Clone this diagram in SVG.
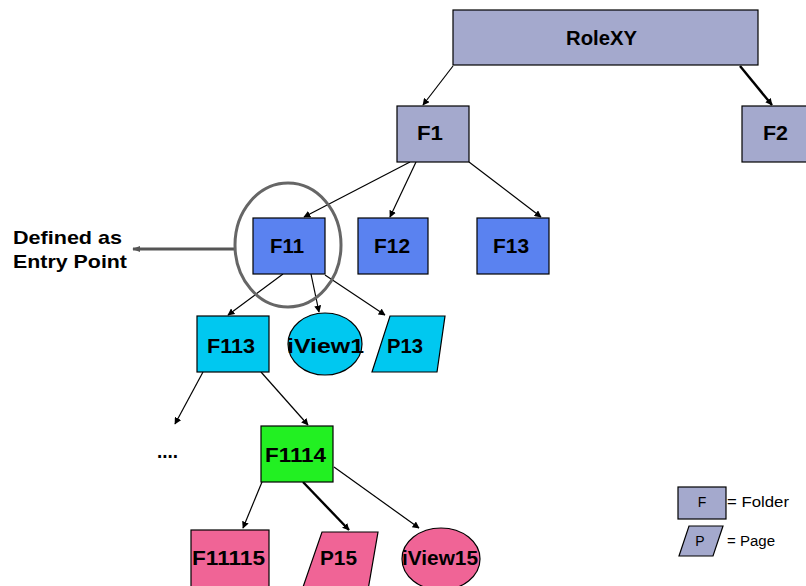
<svg xmlns="http://www.w3.org/2000/svg" width="806" height="586" viewBox="0 0 806 586">
<defs>
<marker id="ah" viewBox="0 0 10 10" refX="9" refY="5" markerWidth="7" markerHeight="7" markerUnits="userSpaceOnUse" orient="auto"><path d="M0,0 L10,5 L0,10 z" fill="#000"/></marker>
<marker id="ahg" viewBox="0 0 10 10" refX="9" refY="5" markerWidth="8" markerHeight="8" markerUnits="userSpaceOnUse" orient="auto"><path d="M0,1 L10,5 L0,9 z" fill="#555"/></marker>
</defs>
<style>
.n{stroke:#000;stroke-width:1.2}
.gray{fill:#a4a9cd}
.blue{fill:#5a82f0}
.cyan{fill:#00c8f0}
.green{fill:#22f022}
.pink{fill:#f06496}
.t{font-family:"Liberation Sans",Arial,sans-serif;font-weight:bold;font-size:20px;fill:#000}
.c{stroke:#000;stroke-width:1.2;fill:none;marker-end:url(#ah)}
.ct{stroke-width:2.4}
.lg{font-family:"Liberation Sans",Arial,sans-serif;font-size:14px;fill:#000}
</style>
<g id="connectors">
<line class="c" x1="453" y1="66" x2="423" y2="105"/>
<line class="c ct" x1="740" y1="66" x2="772" y2="105"/>
<line class="c" x1="410" y1="162" x2="304" y2="217"/>
<line class="c" x1="416" y1="162" x2="390" y2="217"/>
<line class="c" x1="469" y1="162" x2="541" y2="217"/>
<line class="c" x1="283" y1="274" x2="228" y2="315"/>
<line class="c" x1="311" y1="274" x2="319" y2="312"/>
<line class="c" x1="325" y1="275" x2="385" y2="315"/>
<line class="c" x1="203" y1="372" x2="175" y2="424"/>
<line class="c" x1="261" y1="372" x2="308" y2="425"/>
<line class="c" x1="262" y1="482" x2="243" y2="528"/>
<line class="c ct" x1="303" y1="482" x2="349" y2="530"/>
<line class="c" x1="334" y1="467" x2="419" y2="528"/>
<line stroke="#555" stroke-width="3" marker-end="url(#ahg)" x1="235" y1="249" x2="133" y2="249"/>
</g>
<g id="RoleXY"><rect class="n gray" x="453" y="10" width="305" height="55"/><text class="t" x="566" y="45" textLength="71" lengthAdjust="spacingAndGlyphs">RoleXY</text></g>
<g id="F1"><rect class="n gray" x="397" y="106" width="72" height="56"/><text class="t" x="417" y="140" textLength="26" lengthAdjust="spacingAndGlyphs">F1</text></g>
<g id="F2"><rect class="n gray" x="742" y="106" width="70" height="56"/><text class="t" x="763" y="140" textLength="25" lengthAdjust="spacingAndGlyphs">F2</text></g>
<g id="F11"><rect class="n blue" x="253" y="218" width="72" height="56"/><text class="t" x="270" y="253" textLength="34" lengthAdjust="spacingAndGlyphs">F11</text></g>
<g id="F12"><rect class="n blue" x="358" y="218" width="70" height="56"/><text class="t" x="374" y="253" textLength="36" lengthAdjust="spacingAndGlyphs">F12</text></g>
<g id="F13"><rect class="n blue" x="477" y="218" width="72" height="56"/><text class="t" x="493" y="253" textLength="36" lengthAdjust="spacingAndGlyphs">F13</text></g>
<g id="entrypoint">
<ellipse cx="288" cy="245" rx="53" ry="62" fill="none" stroke="#666" stroke-width="3"/>
<text font-family="'Liberation Sans',Arial,sans-serif" font-weight="bold" font-size="19" x="13" y="244" textLength="109" lengthAdjust="spacingAndGlyphs">Defined as</text>
<text font-family="'Liberation Sans',Arial,sans-serif" font-weight="bold" font-size="19" x="13" y="268" textLength="114" lengthAdjust="spacingAndGlyphs">Entry Point</text>
</g>
<g id="F113"><rect class="n cyan" x="197" y="316" width="72" height="56"/><text class="t" x="207" y="353" textLength="48" lengthAdjust="spacingAndGlyphs">F113</text></g>
<g id="iView1"><ellipse class="n cyan" cx="325" cy="344" rx="37" ry="31"/><text class="t" x="287" y="353" textLength="77" lengthAdjust="spacingAndGlyphs">iView1</text></g>
<g id="P13"><polygon class="n cyan" points="390,316 445,316 437,372 372,372"/><text class="t" x="387" y="353" textLength="36" lengthAdjust="spacingAndGlyphs">P13</text></g>
<g id="more"><text class="t" x="157" y="458" textLength="21" lengthAdjust="spacingAndGlyphs">....</text></g>
<g id="F1114"><rect class="n green" x="261" y="426" width="72" height="56"/><text class="t" x="265" y="462" textLength="61" lengthAdjust="spacingAndGlyphs">F1114</text></g>
<g id="F11115"><rect class="n pink" x="191" y="530" width="78" height="62"/><text class="t" x="192" y="565" textLength="73" lengthAdjust="spacingAndGlyphs">F11115</text></g>
<g id="P15"><polygon class="n pink" points="322,532 378,532 368,590 302,590"/><text class="t" x="320" y="565" textLength="37" lengthAdjust="spacingAndGlyphs">P15</text></g>
<g id="iView15"><ellipse class="n pink" cx="441" cy="559" rx="39" ry="31"/><text class="t" x="402" y="565" textLength="76" lengthAdjust="spacingAndGlyphs">iView15</text></g>
<g id="legend">
<rect class="n gray" x="678" y="487" width="48" height="32"/>
<text class="lg" x="702" y="507" text-anchor="middle">F</text>
<text class="lg" x="727" y="507" textLength="62" lengthAdjust="spacingAndGlyphs">= Folder</text>
<polygon class="n gray" points="689,526 723,526 713,556 679,556"/>
<text class="lg" x="700" y="546" text-anchor="middle">P</text>
<text class="lg" x="727" y="546" textLength="48" lengthAdjust="spacingAndGlyphs">= Page</text>
</g>
</svg>
